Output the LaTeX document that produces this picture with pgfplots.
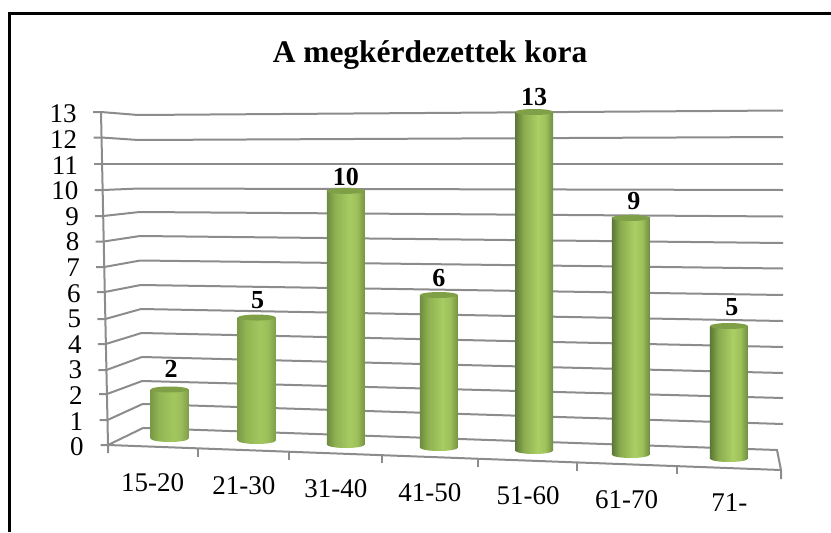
\documentclass[border=0pt]{standalone}
\usepackage{pgfplots}
\pgfplotsset{compat=1.18}
\usetikzlibrary{shapes.geometric}
\usepackage{fontspec}
\setmainfont{Liberation Serif}
\newlength\px \setlength\px{0.75pt}
\definecolor{gridc}{HTML}{8C8C8C}
\definecolor{capc}{HTML}{80A048}
\definecolor{la}{HTML}{7A9A46}
\definecolor{lb}{HTML}{92B553}
\definecolor{lc}{HTML}{A3C75F}
\definecolor{ld}{HTML}{9ABD5A}
\definecolor{le}{HTML}{7F9E49}
\definecolor{ma}{HTML}{6E8C40}
\definecolor{mb}{HTML}{8FB151}
\definecolor{mc}{HTML}{A8CC63}
\definecolor{md}{HTML}{9CBF5B}
\definecolor{me}{HTML}{75933F}
\definecolor{ra}{HTML}{5B7737}
\definecolor{rb}{HTML}{8AAB4E}
\definecolor{rc}{HTML}{ABCF64}
\definecolor{rd}{HTML}{9EC15B}
\definecolor{re}{HTML}{6F8C42}
\pgfdeclarehorizontalshading{cylL}{100bp}{color(0bp)=(la);color(25bp)=(la);color(36bp)=(lb);color(55bp)=(lc);color(65bp)=(ld);color(75bp)=(le);color(100bp)=(le)}
\pgfdeclarehorizontalshading{cylM}{100bp}{color(0bp)=(ma);color(25bp)=(ma);color(36bp)=(mb);color(55bp)=(mc);color(65bp)=(md);color(75bp)=(me);color(100bp)=(me)}
\pgfdeclarehorizontalshading{cylR}{100bp}{color(0bp)=(ra);color(25bp)=(ra);color(36bp)=(rb);color(55bp)=(rc);color(65bp)=(rd);color(75bp)=(re);color(100bp)=(re)}
\newcommand{\gl}[6]{\addplot[gridc,line width=2\px] coordinates {(#1,#2)(#3,#2)(#4,#5)(783,#6)};}
\newcommand{\cyl}[8]{%
 % #1 category, #2 value, #3 xshift, #4 yshift, #5 yscale, #6 label dx, #7 label dy, #8 shading
 \addplot[forget plot,only marks,mark=none,xshift=#3\px,yshift=#4\px,yscale=#5,
   nodes near coords={},every node near coord/.style={shape=ellipse,shade,shading=#8,minimum width=38\px,minimum height=7\px,inner sep=0pt,anchor=center}]
   coordinates {(#1,0)};
 \addplot[forget plot,ybar,bar shift=0pt,bar width=38\px,draw=none,shade,shading=#8,xshift=#3\px,yshift=#4\px,yscale=#5]
   coordinates {(#1,#2)};
 \addplot[forget plot,only marks,mark=none,xshift=#3\px,yshift=#4\px,yscale=#5,
   nodes near coords={},every node near coord/.style={shape=ellipse,fill=capc,minimum width=38\px,minimum height=6\px,inner sep=0pt,anchor=center}]
   coordinates {(#1,#2)};
 \addplot[forget plot,only marks,mark=none,xshift=#3\px,yshift=#4\px,yscale=#5,
   nodes near coords={\bfseries #2},every node near coord/.style={anchor=center,inner sep=0pt,font=\fontsize{19.5pt}{20pt}\selectfont,xshift=#6\px,yshift=#7\px}]
   coordinates {(#1,#2)};
}
\begin{document}
\begin{tikzpicture}[x=\px,y=\px]
\path[use as bounding box] (0,0) rectangle (831,532);
\begin{axis}[name=bg,at={(0,0)},anchor=south west,scale only axis,width=831\px,height=532\px,
  xmin=0,xmax=831,ymin=0,ymax=532,y dir=reverse,hide axis,clip=false]
% frame (left and top only are in view)
\addplot[black,line width=2.6\px] coordinates {(9.5,532)(9.5,13.5)(831,13.5)};
% gridlines: tick start, wall, knee x, knee y, right y
\gl{93}{112}{101}{138}{115}{110.5}
\gl{93.5}{137.5}{101.5}{138.4}{140}{137}
\gl{94}{164}{102}{138.8}{164}{164}
\gl{94.6}{190}{102.6}{139.2}{188.5}{190}
\gl{95.2}{216}{103.2}{139.6}{212}{216.5}
\gl{95.7}{241.5}{103.7}{140}{236}{243}
\gl{96.2}{267}{104.2}{140.3}{260.5}{268.5}
\gl{96.8}{292}{104.8}{140.7}{285}{295}
\gl{97.3}{319}{105.3}{141.1}{309}{321}
\gl{97.8}{344}{105.8}{141.5}{333}{347}
\gl{98.4}{370}{106.4}{141.9}{357}{373}
\gl{99}{394}{107}{142.2}{381}{398}
\gl{99.5}{420}{107.5}{142.6}{404}{424}
% left wall and floor
\addplot[gridc,line width=2\px] coordinates {(101,112)(108,445)(108,453)};
\addplot[gridc,line width=2\px] coordinates {(100.5,445)(108,445)(143,428)(777,450)(781,470)(781,479)};
\addplot[gridc,line width=2\px] coordinates {(108,445)(781,470)};
\addplot[gridc,line width=2\px] coordinates {(198,448.3)(198,457)};
\addplot[gridc,line width=2\px] coordinates {(289,451.7)(289,460)};
\addplot[gridc,line width=2\px] coordinates {(382,455)(382,463)};
\addplot[gridc,line width=2\px] coordinates {(478,458.7)(478,467)};
\addplot[gridc,line width=2\px] coordinates {(577,462.4)(577,470.5)};
\addplot[gridc,line width=2\px] coordinates {(677,466)(677,474)};
\end{axis}
\begin{axis}[name=main,at={(108\px,87\px)},anchor=south west,scale only axis,width=673\px,height=333\px,
  xmin=-0.5,xmax=6.5,ymin=0,ymax=13,clip=false,
  axis line style={draw=none},major tick length=0pt,
  ytick={0,1,2,3,4,5,6,7,8,9,10,11,12,13},
  yticklabels={0,1\kern.5\px,2\kern1\px,3\kern1.6\px,4\kern2.2\px,5\kern2.7\px,6\kern3.2\px,7\kern3.8\px,8\kern4.3\px,9\kern4.8\px,10\kern5.4\px,11\kern5.9\px,12\kern6.5\px,13\kern7\px},
  yticklabel style={anchor=east,inner sep=0pt,font=\fontsize{20.25pt}{21pt}\selectfont,xshift=-24\px,yshift=-2\px},
  xtick={-0.035,0.912,1.869,2.849,3.869,4.893,5.964},
  xticklabels={15-20,\raisebox{-3\px}{21-30},\raisebox{-6\px}{31-40},\raisebox{-10\px}{41-50},\raisebox{-13\px}{51-60},\raisebox{-17\px}{61-70},\raisebox{-20\px}{71-}},
  xticklabel style={anchor=base,inner sep=0pt,font=\fontsize{20.25pt}{21pt}\selectfont,yshift=-46\px},
  title={\bfseries A megkérdezettek kora},
  title style={at={(0.4785,1.147)},anchor=center,inner sep=0pt,font=\fontsize{23.6pt}{24pt}\selectfont},
]
\cyl{0}{2}{13.5}{6.5}{0.9565}{1.5}{20.5}{cylL}
\cyl{1}{5}{4.5}{4.5}{0.96}{1}{17.5}{cylL}
\cyl{2}{10}{-2.5}{0.5}{0.99}{0}{14}{cylM}
\cyl{3}{6}{-5.6}{-2.5}{0.992}{0}{17}{cylM}
\cyl{4}{13}{-6.5}{-5.5}{1.0165}{0}{15}{cylR}
\cyl{5}{9}{-6}{-9.5}{1.026}{3}{17}{cylR}
\cyl{6}{5}{-4}{-13.5}{1.0345}{3}{19}{cylR}
\end{axis}
\end{tikzpicture}
\end{document}
